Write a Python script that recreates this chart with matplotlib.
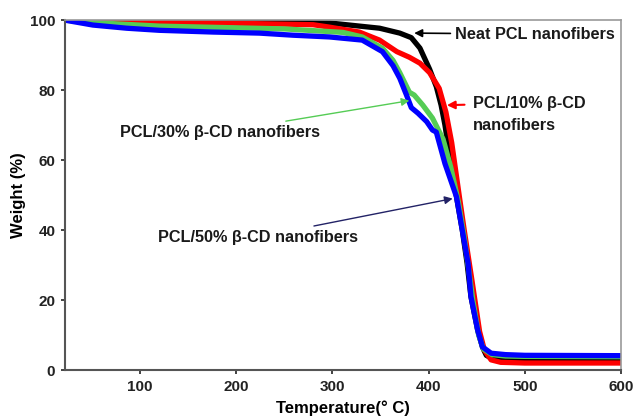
import numpy as np
import matplotlib.pyplot as plt

plt.rcParams['font.family'] = ['Liberation Sans', 'DejaVu Sans']
plt.rcParams['font.weight'] = 'bold'

# Curvas TGA (temperatura en C, peso en %)
t_neat = [22, 100, 200, 297, 349, 370, 382, 388, 391, 401, 408, 413, 417, 422, 429,
          435, 440, 444, 451, 456, 460, 466, 475, 500, 600]
w_neat = [100, 99.8, 99.6, 99.2, 97.7, 96.3, 95, 93, 92, 86, 81, 75.7, 70, 61, 49.5,
          40, 30.5, 21, 11.4, 6.5, 4.2, 3.3, 3, 2.9, 2.9]

t_10 = [22, 100, 150, 200, 280, 297, 328, 349, 367, 380, 391, 401, 411, 418, 424,
        432, 437, 445, 453, 458, 465, 475, 500, 600]
w_10 = [100, 99.6, 99.3, 99.1, 98.7, 98, 96.6, 94.3, 91, 89.4, 87.7, 85, 80.5, 73.7, 65,
        49.5, 40, 25.7, 11, 5.7, 2.9, 2.2, 2, 2]

t_30 = [22, 51, 120, 250, 311, 331, 352, 363, 370, 380, 385, 394, 404, 415, 423,
        431, 437, 442, 446, 452, 457, 466, 480, 500, 600]
w_30 = [100, 99.3, 98.3, 97.5, 96.5, 95.2, 92, 88.5, 85, 79.4, 78.6, 75.7, 72, 66, 58,
        48, 38, 28, 20, 10, 6, 4.4, 4, 3.9, 3.8]

t_50 = [22, 51, 86, 120, 176, 224, 259, 297, 331, 352, 363, 370, 377, 382, 389,
        398, 404, 408, 417, 429, 435, 441, 444, 451, 456, 465, 480, 500, 600]
w_50 = [100, 98.6, 97.7, 97.1, 96.6, 96.3, 95.7, 95.2, 94.3, 91, 87, 83.4, 78.6, 75, 73.4,
        71, 68.6, 68, 59, 49.5, 40, 30.5, 21, 11.4, 6.6, 4.8, 4.4, 4.2, 4.1]

fig = plt.figure(figsize=[6.34, 4.2], dpi=100)
ax = fig.add_axes([0.1025, 0.119, 0.877, 0.833])

ax.plot(t_neat, w_neat, color='black', lw=3.8, solid_joinstyle='round', solid_capstyle='round')
ax.plot(t_10, w_10, color='#ff0000', lw=3.8, solid_joinstyle='round', solid_capstyle='round')
ax.plot(t_30, w_30, color='#55cc55', lw=3.8, solid_joinstyle='round', solid_capstyle='round')
ax.plot(t_50, w_50, color='#0000ff', lw=3.8, solid_joinstyle='round', solid_capstyle='round')

ax.set_xlim(22, 600)
ax.set_ylim(0, 100)
ax.set_xticks([100, 200, 300, 400, 500, 600])
ax.set_yticks([0, 20, 40, 60, 80, 100])
ax.tick_params(labelsize=11, width=1.2, length=3, colors='#222222')
ax.tick_params(axis='x', pad=4)
ax.tick_params(axis='y', pad=4)

for s in ['left', 'bottom']:
    ax.spines[s].set_color('#555555')
    ax.spines[s].set_linewidth(1.5)
for s in ['top', 'right']:
    ax.spines[s].set_color('#999999')
    ax.spines[s].set_linewidth(1.2)

ax.set_xlabel("Temperature(° C)", fontsize=12, fontweight='bold', labelpad=5)
ax.set_ylabel("Weight (%)", fontsize=12, fontweight='bold', labelpad=3)

txt = dict(fontsize=11.7, fontweight='bold', color='#1a1a1a')
ax.annotate("Neat PCL nanofibers", xy=(385, 96.3), xytext=(427, 96),
            va='center', ha='left', **txt,
            arrowprops=dict(arrowstyle='-|>', color='black', lw=1.2, shrinkA=1, shrinkB=0))
ax.annotate("PCL/10% β-CD", xy=(419, 75.7), xytext=(446, 76.3),
            va='center', ha='left', **txt,
            arrowprops=dict(arrowstyle='-|>', color='#ff0000', lw=1.5, shrinkA=4, shrinkB=0))
ax.text(446, 70, "nanofibers", va='center', ha='left', **txt)
ax.annotate("PCL/30% β-CD nanofibers", xy=(380, 77), xytext=(79, 68),
            va='center', ha='left', **txt,
            arrowprops=dict(arrowstyle='-|>', color='#55cc55', lw=1, shrinkA=3, shrinkB=0))
ax.annotate("PCL/50% β-CD nanofibers", xy=(425, 49), xytext=(118.5, 38),
            va='center', ha='left', **txt,
            arrowprops=dict(arrowstyle='-|>', color='#222266', lw=1, shrinkA=3, shrinkB=0))

plt.savefig('out.png', dpi=100)
